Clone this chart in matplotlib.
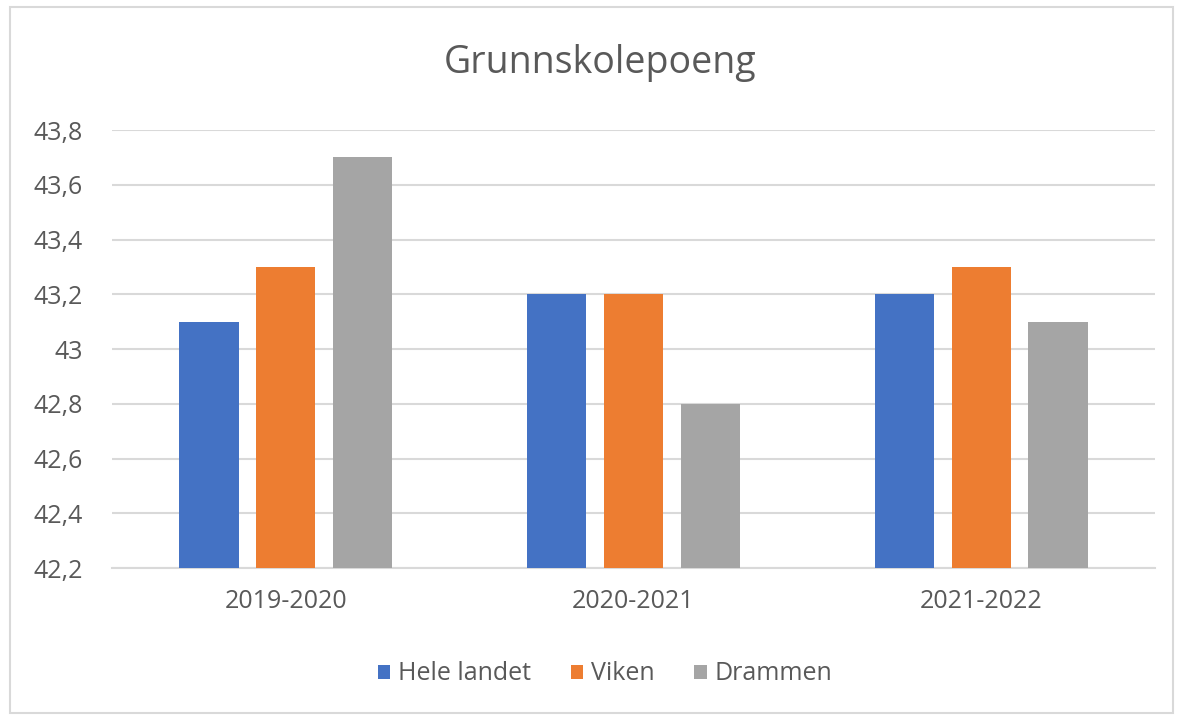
import matplotlib
matplotlib.use("Agg")
import matplotlib.pyplot as plt
import numpy as np
from matplotlib.patches import Rectangle

categories = ["2019-2020", "2020-2021", "2021-2022"]
series_names = ["Hele landet", "Viken", "Drammen"]
hele_landet = [43.1, 43.2, 43.2]
viken = [43.3, 43.2, 43.3]
drammen = [43.7, 42.8, 43.1]
colors = ["#4472C4", "#ED7D31", "#A5A5A5"]
yticks = [42.2, 42.4, 42.6, 42.8, 43.0, 43.2, 43.4, 43.6, 43.8]
ytick_labels = ["42,2", "42,4", "42,6", "42,8", "43", "43,2", "43,4", "43,6", "43,8"]

plt.rcParams['font.family'] = ['Open Sans', 'DejaVu Sans']
txt = "#595959"

fig = plt.figure(figsize=(11.77, 7.17), dpi=100)
W, H = 1177, 717
ax = fig.add_axes([112 / W, 1 - 568 / H, (1155 - 112) / W, (568 - 130) / H])

x = np.arange(len(categories))
bw = 0.17
step = 0.221
data = [hele_landet, viken, drammen]
base = 42.2
for i, (vals, name, c) in enumerate(zip(data, series_names, colors)):
    ax.bar(x + (i - 1) * step, np.array(vals) - base, bottom=base, width=bw,
           color=c, label=name, zorder=3)

ax.set_xlim(-0.5, 2.5)
ax.set_ylim(42.2, 43.8)
ax.set_yticks(yticks)
ax.set_yticklabels(ytick_labels)
ax.set_xticks(x)
ax.set_xticklabels(categories)
ax.grid(axis='y', color='#D9D9D9', linewidth=1.5, zorder=0)
for s in ['top', 'right', 'left']:
    ax.spines[s].set_visible(False)
ax.spines['bottom'].set_color('#D9D9D9')
ax.spines['bottom'].set_linewidth(1.5)
ax.tick_params(axis='both', length=0, labelsize=18, colors=txt)
ax.tick_params(axis='y', pad=21)
ax.tick_params(axis='x', pad=15)

fig.text(600 / W, 1 - 63 / H, "Grunnskolepoeng", ha='center', va='center',
         fontsize=27, color=txt)

leg = fig.legend(loc='center', bbox_to_anchor=(605 / W, 1 - 674 / H), ncol=3,
                 frameon=False, fontsize=18, labelcolor=txt,
                 handlelength=0.5, handleheight=0.5, handletextpad=0.3,
                 columnspacing=1.6)

fig.patches.append(Rectangle((10 / W, 4 / H), (1173 - 10) / W, (710 - 4) / H,
                             transform=fig.transFigure, fill=False,
                             edgecolor='#D9D9D9', linewidth=1.5))

fig.savefig("out.png", dpi=100)
